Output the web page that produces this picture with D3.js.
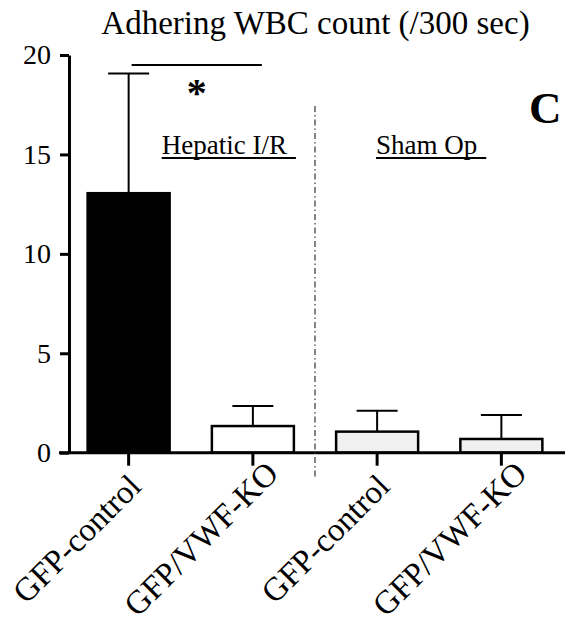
<!DOCTYPE html>
<html>
<head>
<meta charset="utf-8">
<script src="https://cdn.jsdelivr.net/npm/d3@7"></script>
<style>
  body { margin: 0; background: #fff; }
  svg text { font-family: "Liberation Serif", "Times New Roman", Tinos, Times, "DejaVu Serif", serif; fill: #000; }
</style>
</head>
<body>
<svg id="chart" width="576" height="617"></svg>
<script>
// Data
const categories = ["GFP-control", "GFP/VWF-KO", "GFP-control", "GFP/VWF-KO"];
const groups = ["Hepatic I/R", "Sham Op"];
const means = [13.05, 1.34, 1.06, 0.69];
const errUpper = [6.02, 1.01, 1.05, 1.20];
const yTicks = [0, 5, 10, 15, 20];
const sigValue = 19.5;

const fills = ["#000000", "#ffffff", "#f0f0f0", "#f0f0f0"];

const svg = d3.select("#chart");

// Scales
const y = d3.scaleLinear()
    .domain([0, 20])
    .range([452.7, 55]);

const x = d3.scaleBand()
    .domain(d3.range(categories.length))
    .range([69, 561])
    .paddingInner(0.34)
    .paddingOuter(0.15);

const bw = x.bandwidth();
const cx = i => x(i) + bw / 2;

// Title
svg.append("text")
    .attr("x", 315.5)
    .attr("y", 34)
    .attr("text-anchor", "middle")
    .style("font-size", "33px")
    .text("Adhering WBC count (/300 sec)");

// Bars
svg.selectAll(".bar")
    .data(means)
    .enter().append("rect")
    .attr("class", "bar")
    .attr("x", (d, i) => x(i))
    .attr("width", bw)
    .attr("y", d => y(d))
    .attr("height", d => y(0) - y(d))
    .attr("fill", (d, i) => fills[i])
    .attr("stroke", "#000")
    .attr("stroke-width", 2.5);

// Error bars (upper only)
const err = svg.selectAll(".err")
    .data(means)
    .enter().append("g")
    .attr("class", "err")
    .attr("stroke", "#000")
    .attr("stroke-width", 2);

err.append("line")
    .attr("x1", (d, i) => cx(i))
    .attr("x2", (d, i) => cx(i))
    .attr("y1", d => y(d))
    .attr("y2", (d, i) => y(d + errUpper[i]));

err.append("line")
    .attr("x1", (d, i) => cx(i) - bw / 4)
    .attr("x2", (d, i) => cx(i) + bw / 4)
    .attr("y1", (d, i) => y(d + errUpper[i]))
    .attr("y2", (d, i) => y(d + errUpper[i]));

// Y axis
const yAxis = svg.append("g")
    .attr("transform", "translate(69,0)")
    .call(d3.axisLeft(y).tickValues(yTicks).tickSize(9).tickSizeOuter(0).tickPadding(9));
yAxis.attr("font-family", null);
yAxis.select(".domain").attr("stroke-width", 3);
yAxis.selectAll(".tick line").attr("stroke-width", 3);
yAxis.selectAll(".tick text")
    .style("font-size", "28px");

// X axis
const xAxis = svg.append("g")
    .attr("transform", "translate(0," + y(0) + ")")
    .call(d3.axisBottom(x).tickSize(13).tickSizeOuter(0).tickFormat(""));
xAxis.select(".domain").remove();
xAxis.selectAll(".tick line").attr("stroke-width", 3);
svg.append("line")
    .attr("x1", x.range()[0] - 10)
    .attr("x2", x.range()[1] + 4)
    .attr("y1", y(0))
    .attr("y2", y(0))
    .attr("stroke", "#000")
    .attr("stroke-width", 3);

// Rotated category labels, centred below each tick
svg.selectAll(".cat")
    .data(categories)
    .enter().append("text")
    .attr("class", "cat")
    .attr("transform", (d, i) => "translate(" + (cx(i) - 44) + "," + (y(0) + 94) + ") rotate(-45)")
    .attr("text-anchor", "middle")
    .style("font-size", "33px")
    .text(d => d);

// Divider between groups
const divX = (x(1) + bw + x(2)) / 2;
svg.append("line")
    .attr("x1", divX)
    .attr("x2", divX)
    .attr("y1", 106)
    .attr("y2", 477)
    .attr("stroke", "#333")
    .attr("stroke-width", 1.2)
    .attr("stroke-dasharray", "6,3,1.5,3");

// Group labels with underline
const groupPos = [161.7, 376];
groups.forEach((g, i) => {
    const t = svg.append("text")
        .attr("x", groupPos[i])
        .attr("y", 153.5)
        .style("font-size", "27px")
        .text(g);
    const len = t.node().getComputedTextLength();
    svg.append("line")
        .attr("x1", groupPos[i])
        .attr("x2", groupPos[i] + len + 9)
        .attr("y1", 158)
        .attr("y2", 158)
        .attr("stroke", "#000")
        .attr("stroke-width", 2);
});

// Significance bracket
svg.append("line")
    .attr("x1", cx(0) + 3)
    .attr("x2", cx(1) + 9)
    .attr("y1", y(sigValue))
    .attr("y2", y(sigValue))
    .attr("stroke", "#000")
    .attr("stroke-width", 2);

svg.append("text")
    .attr("x", (cx(0) + cx(1)) / 2 + 6)
    .attr("y", 106)
    .attr("text-anchor", "middle")
    .style("font-size", "40px")
    .style("font-weight", "bold")
    .text("*");

// Panel letter
svg.append("text")
    .attr("x", 529)
    .attr("y", 123)
    .style("font-size", "45px")
    .style("font-weight", "bold")
    .text("C");
</script>
</body>
</html>
